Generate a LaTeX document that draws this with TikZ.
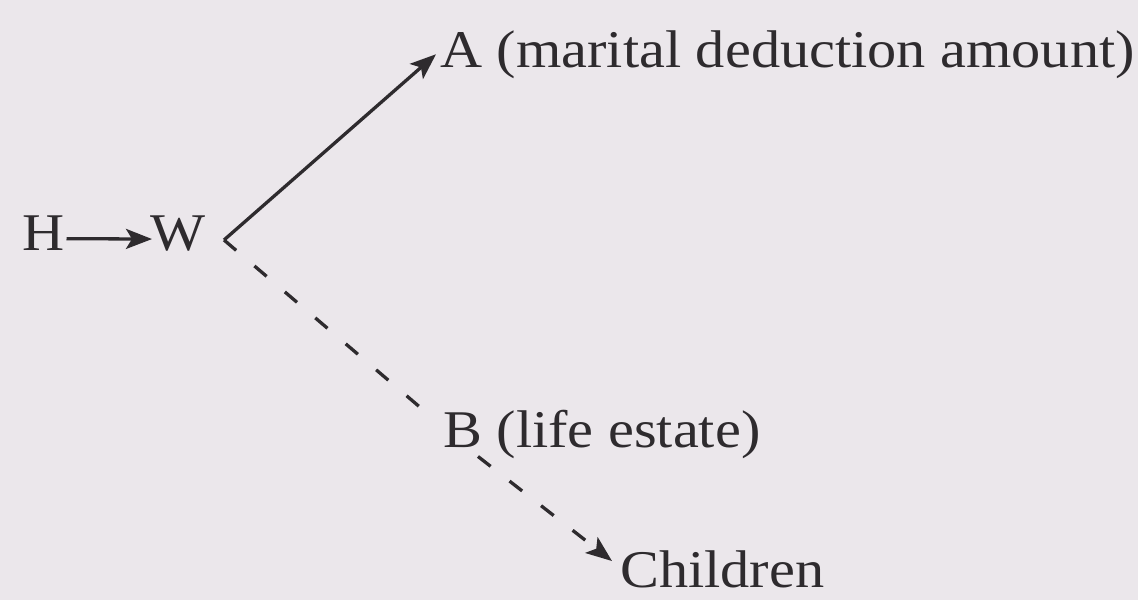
\documentclass[tikz,border=0pt]{standalone}
\usepackage{fontspec}
\setmainfont[FakeStretch=1.1]{Liberation Serif}
\usetikzlibrary{arrows.meta,calc}
\definecolor{bg}{HTML}{EBE7EB}
\definecolor{ink}{HTML}{2E2B2E}
\begin{document}
\begin{tikzpicture}[x=1pt,y=-1pt,
  lbl/.style={inner sep=0pt, anchor=base west, text=ink, font=\fontsize{53}{62}\selectfont},
  conn/.style={draw=ink, line width=3.3pt, -{Stealth[length=26pt,width=20pt,inset=6pt]}},
  plainline/.style={draw=ink, line width=3.3pt},
  dashline/.style={dash pattern=on 16pt off 24pt}]
\fill[bg] (0,0) rectangle (1138,600);
\useasboundingbox (0,0) rectangle (1138,600);
\node[lbl] (H) at (22,250) {H};
\node[lbl] (W) at (150,250) {W};
\node[lbl] (A) at (440,67) {A (marital deduction amount)};
\node[lbl] (B) at (443,447) {B (life estate)};
\node[lbl] (C) at (620,587) {Children};
\coordinate (V) at (224,240);
\draw[conn] ($(H.east)+(2,6)$) -- ($(W.west)+(2,6)$);
\draw[conn] (V) -- ($(A.west)+(-4,0)$);
\draw[plainline,dashline] (V) -- ($(B.north west)+(-18,2)$);
\draw[conn,dashline] ($(B.south west)+(35,-2)$) -- ($(C.north west)+(-8,11)$);
\end{tikzpicture}
\end{document}
